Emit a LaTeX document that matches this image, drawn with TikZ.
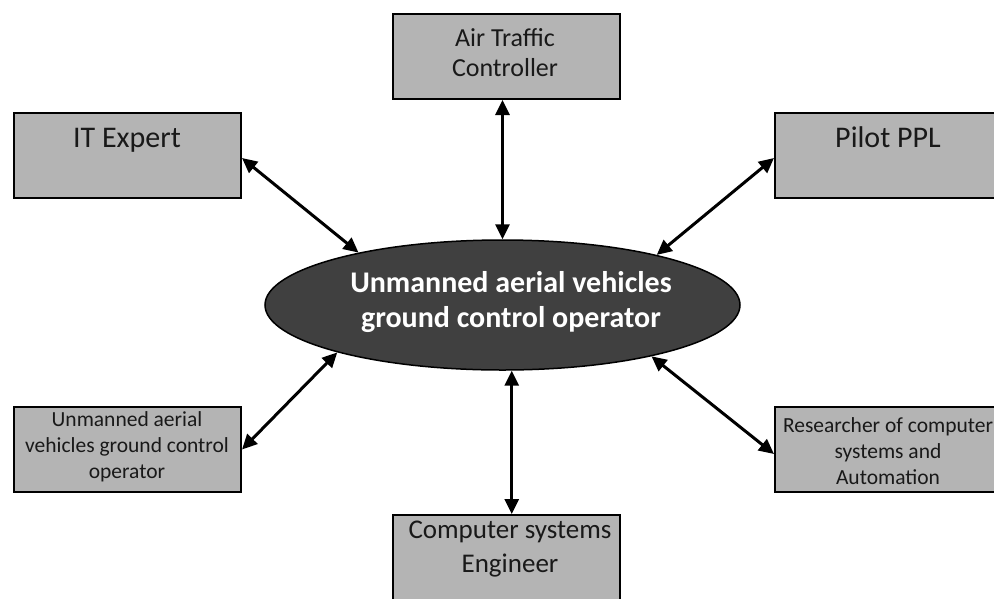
\documentclass[tikz,border=0pt]{standalone}
\usepackage{fontspec}
\setmainfont{Carlito}
\usetikzlibrary{arrows.meta,shapes.geometric}
\definecolor{boxgray}{RGB}{180,180,180}
\definecolor{ellgray}{RGB}{64,64,64}
\begin{document}
\begin{tikzpicture}[x=1pt,y=-1pt,
  box/.style={draw=black, line width=2pt, fill=boxgray, rectangle, minimum width=227pt, minimum height=85pt, inner sep=0pt, anchor=north west},
  txt/.style={anchor=base, align=center, inner sep=0pt, text=black!90},
  conn/.style={{Triangle[length=15pt,width=14pt]}-{Triangle[length=15pt,width=14pt]}, line width=3pt, black}
]
\useasboundingbox (0,0) rectangle (994,598);
\fill[white] (0,0) rectangle (994,598);
\clip (0,0) rectangle (994,598);
% boxes
\node[box] (atc) at (392,13) {};
\node[box] (it) at (13,112) {};
\node[box] (pilot) at (774,112) {};
\node[box] (uav) at (13,406) {};
\node[box] (res) at (774,406) {};
\node[box, minimum height=120pt] (comp) at (392,514) {};
% central ellipse
\node[ellipse, draw=black, line width=1.5pt, fill=ellgray, minimum width=475pt, minimum height=130pt, inner sep=0pt] (ell) at (502.5,305) {};
% texts (anchor base = baseline of the last line)
\node[txt, font=\fontsize{26}{30}\selectfont] (atct) at (505,76) {Air Traffic\\Controller};
\node[txt, font=\fontsize{30}{36}\selectfont] (itt) at (127,147) {IT Expert};
\node[txt, font=\fontsize{30}{36}\selectfont] (pilott) at (888,147) {Pilot PPL};
\node[txt, font=\fontsize{21.5}{26}\selectfont] (uavt) at (127,478) {Unmanned aerial\\vehicles ground control\\operator};
\node[txt, font=\fontsize{21.5}{26}\selectfont] (rest) at (888,484) {Researcher of computer\\systems and\\Automation};
\node[txt, font=\fontsize{27}{34}\selectfont] (compt) at (510,572) {Computer systems\\Engineer};
\node[txt, font=\fontsize{30}{35}\selectfont\bfseries, text=white] (ellt) at (511,327) {Unmanned aerial vehicles\\ground control operator};
% connectors
\draw[conn] ([yshift=-2.5pt]it.east) -- (ell.160);
\draw[conn] ([yshift=-2.5pt]pilot.west) -- (ell.18);
\draw[conn] (uav.east) -- (ell.-164);
\draw[conn] ([yshift=-4.5pt]res.west) -- (ell.-19);
\draw[conn] (ell.north) -- (ell.north |- atc.south);
\draw[conn] (ell.-82) -- (ell.-82 |- comp.north);
\end{tikzpicture}
\end{document}
